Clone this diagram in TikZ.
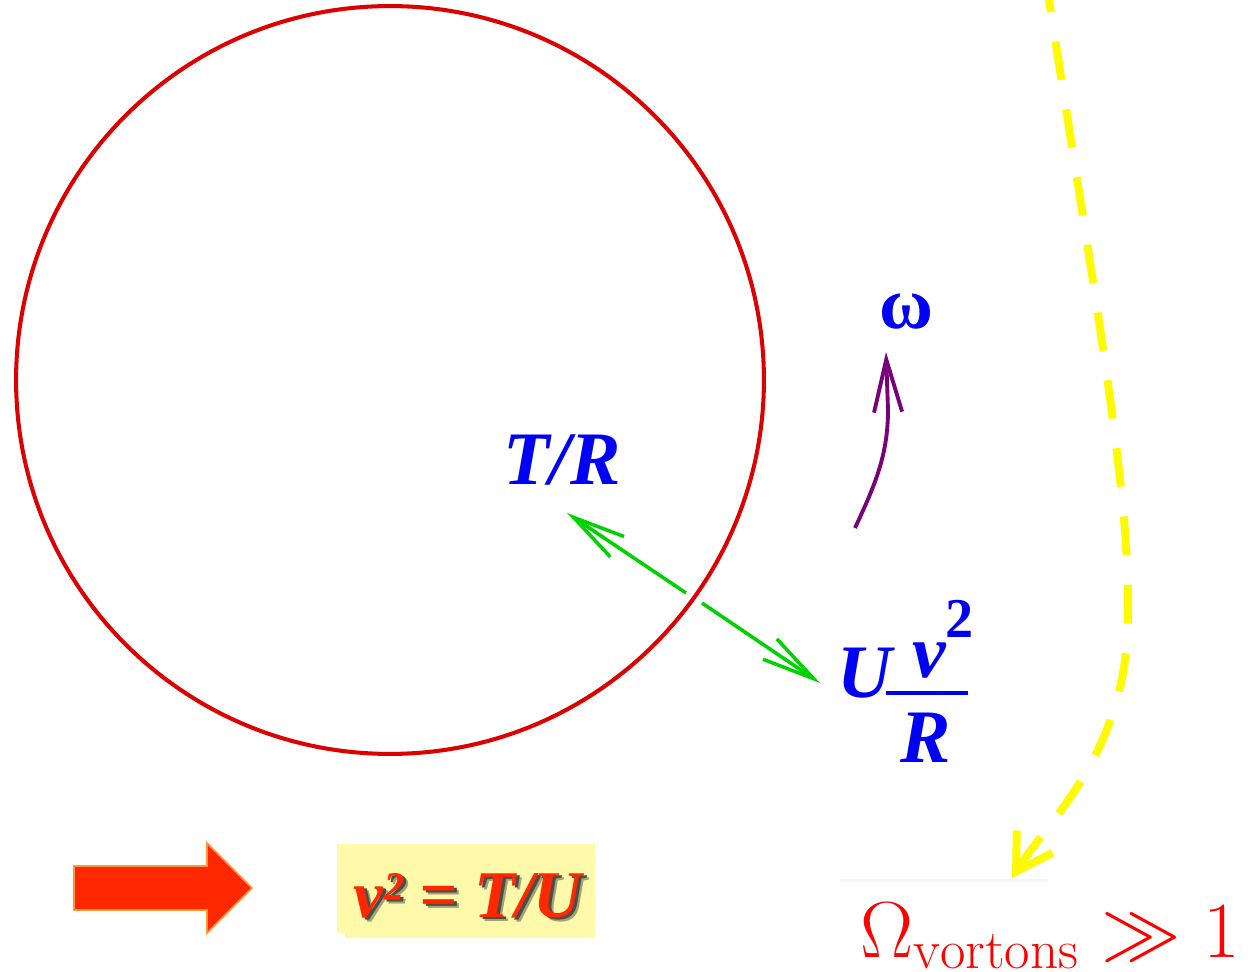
\documentclass[tikz,border=0pt]{standalone}
\usepackage{fontspec}
\usetikzlibrary{arrows.meta}
\newfontfamily\timesfont{Liberation Serif}
\DeclareMathSizes{24.88}{24.88}{17.28}{12}
\definecolor{ringred}{RGB}{220,0,0}
\definecolor{labelblue}{RGB}{0,0,245}
\definecolor{forcegreen}{RGB}{0,210,0}
\definecolor{spinpurple}{RGB}{120,0,120}
\definecolor{pathyellow}{RGB}{255,250,0}
\definecolor{blockred}{RGB}{255,40,0}
\definecolor{blockedge}{RGB}{255,150,60}
\definecolor{notefill}{RGB}{255,250,170}
\definecolor{omegared}{RGB}{255,0,0}
\tikzset{
  lbl/.style={inner sep=0pt, text=labelblue,
    font=\timesfont\bfseries\itshape\fontsize{43}{50}\selectfont},
  barb/.style={-{Straight Barb[length=30pt,width=14pt]}, line width=2pt},
  notetext/.style={anchor=base west, inner sep=0pt,
    font=\timesfont\bfseries\itshape\fontsize{38}{44}\selectfont},
}

\begin{document}
\begin{tikzpicture}[x=0.02cm, y=-0.02cm]
\useasboundingbox (0,0) rectangle (1251,972);
% --- the vorton loop ---
\draw[line width=2.3pt, ringred] (390,380) circle[radius=7.48cm];
% --- tension and centrifugal force ---
\node[lbl, anchor=base west] (tr) at (503,485) {T/R};
\coordinate (inA) at (686,593);
\coordinate (inB) at (567,513);
\coordinate (outA) at (702,603);
\coordinate (outB) at (820,683);
\draw[barb, forcegreen] (inA) -- (inB);
\draw[barb, forcegreen] (outA) -- (outB);
\node[lbl, anchor=base west] (uu) at (837,698) {U};
\node[lbl, anchor=base west] (vv) at (912,678) {v};
\node[lbl, anchor=base west, font=\timesfont\bfseries\fontsize{32}{36}\selectfont] (sq) at (945,638) {2};
\node[lbl, anchor=base west] (rr) at (900,763) {R};
\draw[labelblue, line width=2.8pt] (886,693) -- (968,693);
% --- rotation ---
\node[lbl, anchor=base, font=\timesfont\bfseries\fontsize{42}{50}\selectfont] (omega) at (906,329) {ω};
\coordinate (spin) at (855,528);
\coordinate (spintip) at (886,352);
\draw[spinpurple, line width=2.2pt, -{Straight Barb[length=30pt,width=16pt]}]
  (spin) .. controls (875,485) and (888,455) .. (888,410) -- (spintip);
% --- result ---
\draw[line width=1pt, draw=blockedge, fill=blockred]
  (74,866) -- (207,866) -- (207,843) -- (252,888) -- (207,933) --
  (207,910) -- (74,910) -- cycle;
\fill[notefill] (337,844) rectangle (595,933);
\fill[notefill] (345,850) rectangle (595,938);
\node[notetext, text=black!35!notefill] (noteblur) at (358,921) {v² = T/U};
\node[notetext, text=black!70] (noteshade) at (356,919) {v² = T/U};
\node[notetext, text=blockred] (note) at (353,917) {v² = T/U};
% --- cosmological consequence ---
\fill[black!4] (840,879) rectangle (1048,882);
\node[anchor=base west, inner sep=0pt, text=omegared, font=\Huge]
  (vort) at (860,957) {\scalebox{1.82}{$\Omega_{\mathrm{vortons}}\gg 1$}};
\coordinate (ytop) at (1045,-26);
\coordinate (ytip) at (1012,878);
\draw[pathyellow, line width=4.5pt, dash pattern=on 22pt off 17pt,
  -{Straight Barb[length=20pt,width=24pt]}]
  (ytop) .. controls (1100,330) and (1135,520) .. (1127,640)
  .. controls (1119,760) and (1045,825) .. (ytip);
\end{tikzpicture}
\end{document}
